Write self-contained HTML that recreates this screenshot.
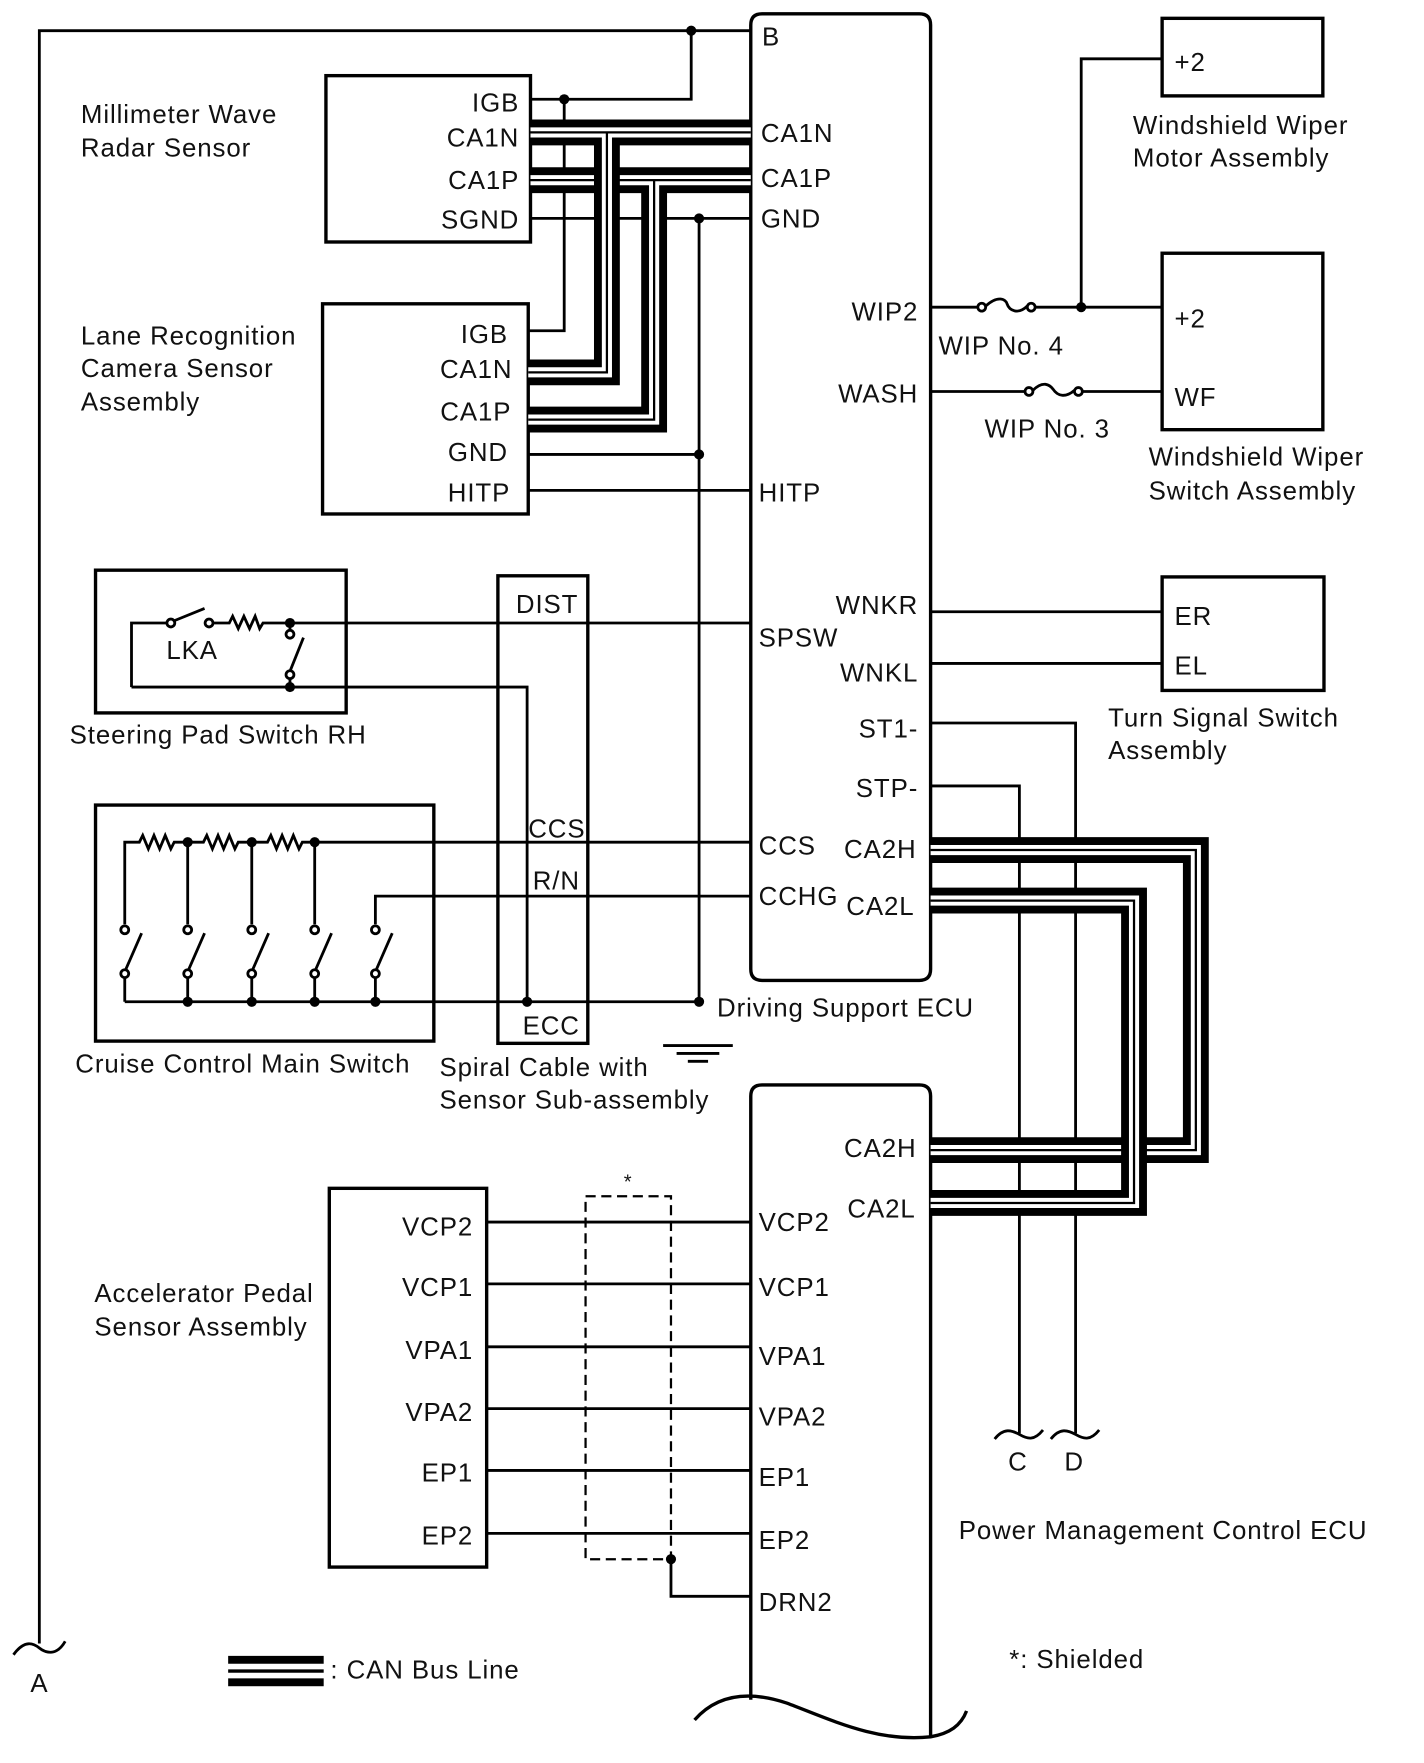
<!DOCTYPE html>
<html><head><meta charset="utf-8"><style>
html,body{margin:0;padding:0;background:#fff;}
svg{display:block;}
text{font-family:"Liberation Sans",Arial,sans-serif;font-size:23px;letter-spacing:0.8px;fill:#111;}
.r{text-anchor:end;}
</style></head><body>
<svg width="1424" height="1763" viewBox="0 0 1267 1568" xmlns="http://www.w3.org/2000/svg">
<defs>
<g id="b1"><path d="M472,160 H668"/><path d="M582,160 V373 H470"/></g>
<g id="b2"><path d="M472,117.5 H668"/><path d="M540,117.5 V331 H470"/></g>
<path id="b3" d="M828,756 H1064 V1023 H828"/>
<path id="b4" d="M828,801 H1009 V1070 H828"/>
</defs>
<g fill="none" stroke="#000" stroke-width="2.5">
<path d="M35,1462 V27 H668"/>
<path d="M12,1472 C22,1458 30,1462 35,1466 C40,1470 50,1474 58,1460"/>
<path d="M615,27 V88 H472"/>
<path d="M502,88 V294 H470"/>
<path d="M668,862 V22 Q668,12 678,12 H818 Q828,12 828,22 V862 Q828,872 818,872 H678 Q668,872 668,862 Z" stroke-width="3"/>
<path d="M668,1512 V975 Q668,965 678,965 H818 Q828,965 828,975 V1545" stroke-width="3"/>
<path d="M618,1530 C640,1505 670,1505 700,1515 C740,1530 780,1550 828,1545 C845,1542 855,1535 860,1522" stroke-width="3"/>
<rect x="290" y="67" width="182" height="148" stroke-width="3"/>
<rect x="287" y="270" width="183" height="187" stroke-width="3"/>
<path d="M472,194 H668"/>
<path d="M622,194 V891"/>
<path d="M470,404 H622"/>
<path d="M470,436 H668"/>
<path d="M590,930 H652 M602,937 H640 M612,944 H630"/>
<rect x="1034" y="16" width="143" height="69" stroke-width="3"/>
<rect x="1034" y="225" width="143" height="157" stroke-width="3"/>
<rect x="1034" y="513" width="144" height="101" stroke-width="3"/>
<path d="M828,273 H870 M921,273 H1034"/>
<path d="M962,273 V52 H1034"/>
<path d="M828,348 H912 M963,348 H1034"/>
<circle cx="873.5" cy="273" r="3.5"/><circle cx="917.5" cy="273" r="3.5"/>
<path d="M877,272 C888,262 895,266 896,270 C898,276 906,280 914,272"/>
<circle cx="915.5" cy="348" r="3.5"/><circle cx="959.5" cy="348" r="3.5"/>
<path d="M919,347 C928,338 934,342 937,346 C941,352 948,354 956,347"/>
<path d="M828,544 H1034 M828,590 H1034"/>
<path d="M828,643 H957 V1275 M828,699 H907 V1275"/>
<path d="M885,1280 C893,1270 900,1272 907,1276 C914,1280 920,1282 928,1272"/>
<path d="M935,1280 C943,1270 950,1272 957,1276 C964,1280 970,1282 978,1272"/>
<rect x="443" y="512" width="80" height="416" stroke-width="3"/>
<rect x="85" y="507" width="223" height="127" stroke-width="3"/>
<path d="M117,611 V554 H148 M190,554 H204 L207,548 L212,559 L217,548 L222,559 L227,548 L231,559 L234,554 H668"/>
<circle cx="152" cy="554" r="3.5"/><circle cx="186" cy="554" r="3.5"/>
<path d="M155,552 L182,541"/>
<path d="M258,554 V560"/><circle cx="258" cy="564" r="3.5"/>
<path d="M258,597 L270,567"/><circle cx="258" cy="600" r="3.5"/><path d="M258,604 V611"/>
<path d="M117,611 H469 V891"/>
<rect x="85" y="716" width="301" height="210" stroke-width="3"/>
<path d="M111,822 V749 H124 L127,743 L132,755 L137,743 L142,755 L147,743 L152,755 L155,749 H181 L184,743 L189,755 L194,743 L199,755 L204,743 L209,755 L212,749 H238 L241,743 L246,755 L251,743 L256,755 L261,743 L266,755 L269,749 H668"/>
<path d="M167,749 V822 M224,749 V822 M280,749 V822"/>
<path d="M334,822 V797 H668"/>
<g>
<circle cx="111" cy="827" r="3.5"/><circle cx="111" cy="866" r="3.5"/><path d="M112,862 L126,830 M111,870 V891"/>
<circle cx="167" cy="827" r="3.5"/><circle cx="167" cy="866" r="3.5"/><path d="M168,862 L182,830 M167,870 V891"/>
<circle cx="224" cy="827" r="3.5"/><circle cx="224" cy="866" r="3.5"/><path d="M225,862 L239,830 M224,870 V891"/>
<circle cx="280" cy="827" r="3.5"/><circle cx="280" cy="866" r="3.5"/><path d="M281,862 L295,830 M280,870 V891"/>
<circle cx="334" cy="827" r="3.5"/><circle cx="334" cy="866" r="3.5"/><path d="M335,862 L349,830 M334,870 V891"/>
</g>
<path d="M111,891 H622"/>
<rect x="293" y="1057" width="140" height="337" stroke-width="3"/>
<path d="M433,1087 H668 M433,1142 H668 M433,1198 H668 M433,1253 H668 M433,1308 H668 M433,1364 H668"/>
<rect x="521" y="1064" width="76" height="323" stroke-dasharray="9,5" stroke-width="2"/>
<path d="M597,1387 V1420 H668"/>
</g>
<g fill="#000">
<circle cx="615" cy="27" r="4.5"/><circle cx="502" cy="88" r="4.5"/>
<circle cx="622" cy="194" r="4.5"/><circle cx="622" cy="404" r="4.5"/><circle cx="622" cy="891" r="4.5"/>
<circle cx="962" cy="273" r="4.5"/><circle cx="258" cy="554" r="4.5"/><circle cx="258" cy="611" r="4.5"/>
<circle cx="469" cy="891" r="4.5"/>
<circle cx="167" cy="749" r="4.5"/><circle cx="224" cy="749" r="4.5"/><circle cx="280" cy="749" r="4.5"/>
<circle cx="167" cy="891" r="4.5"/><circle cx="224" cy="891" r="4.5"/><circle cx="280" cy="891" r="4.5"/><circle cx="334" cy="891" r="4.5"/>
<circle cx="597" cy="1387" r="4.5"/>
</g>
<g fill="none" stroke-linejoin="miter" stroke-linecap="butt">
<use href="#b1" stroke="#000" stroke-width="23"/><use href="#b1" stroke="#fff" stroke-width="9"/><use href="#b1" stroke="#000" stroke-width="2"/>
<use href="#b2" stroke="#000" stroke-width="23"/><use href="#b2" stroke="#fff" stroke-width="9"/><use href="#b2" stroke="#000" stroke-width="2"/>
<use href="#b3" stroke="#000" stroke-width="23"/><use href="#b3" stroke="#fff" stroke-width="9"/><use href="#b3" stroke="#000" stroke-width="2"/>
<use href="#b4" stroke="#000" stroke-width="23"/><use href="#b4" stroke="#fff" stroke-width="9"/><use href="#b4" stroke="#000" stroke-width="2"/>
</g>
<rect x="203" y="1473" width="85" height="7" fill="#000"/>
<rect x="203" y="1485" width="85" height="3" fill="#000"/>
<rect x="203" y="1493" width="85" height="7" fill="#000"/>
<text x="678" y="40">B</text>
<text x="72" y="109">Millimeter Wave</text><text x="72" y="139">Radar Sensor</text>
<text class="r" x="462" y="99">IGB</text><text class="r" x="462" y="130">CA1N</text>
<text class="r" x="462" y="168">CA1P</text><text class="r" x="462" y="203">SGND</text>
<text x="677" y="126">CA1N</text><text x="677" y="166">CA1P</text><text x="677" y="202">GND</text>
<text x="72" y="306">Lane Recognition</text><text x="72" y="335">Camera Sensor</text><text x="72" y="365">Assembly</text>
<text class="r" x="452" y="305">IGB</text><text class="r" x="456" y="336">CA1N</text>
<text class="r" x="455" y="374">CA1P</text><text class="r" x="452" y="410">GND</text><text class="r" x="454" y="446">HITP</text>
<text x="675" y="446">HITP</text>
<text class="r" x="817" y="285">WIP2</text><text class="r" x="817" y="358">WASH</text>
<text x="835" y="315">WIP No. 4</text><text x="876" y="389">WIP No. 3</text>
<text x="1045" y="63">+2</text><text x="1008" y="119">Windshield Wiper</text><text x="1008" y="148">Motor Assembly</text>
<text x="1045" y="291">+2</text><text x="1045" y="361">WF</text>
<text x="1022" y="414">Windshield Wiper</text><text x="1022" y="444">Switch Assembly</text>
<text class="r" x="817" y="546">WNKR</text><text x="675" y="575">SPSW</text><text class="r" x="817" y="606">WNKL</text>
<text x="1045" y="556">ER</text><text x="1045" y="600">EL</text>
<text x="986" y="646">Turn Signal Switch</text><text x="986" y="675">Assembly</text>
<text class="r" x="817" y="656">ST1-</text><text class="r" x="817" y="709">STP-</text>
<text x="675" y="760">CCS</text><text x="751" y="763">CA2H</text>
<text x="675" y="805">CCHG</text><text x="753" y="814">CA2L</text>
<text x="459" y="545">DIST</text><text x="470" y="745">CCS</text><text x="474" y="791">R/N</text><text x="465" y="920">ECC</text>
<text x="148" y="586">LKA</text>
<text x="62" y="661">Steering Pad Switch RH</text>
<text x="67" y="954">Cruise Control Main Switch</text>
<text x="638" y="904">Driving Support ECU</text>
<text x="391" y="957">Spiral Cable with</text><text x="391" y="986">Sensor Sub-assembly</text>
<text x="751" y="1029">CA2H</text><text x="754" y="1083">CA2L</text>
<text x="555" y="1057" style="font-size:18px">*</text>
<text x="84" y="1158">Accelerator Pedal</text><text x="84" y="1188">Sensor Assembly</text>
<text class="r" x="421" y="1099">VCP2</text><text class="r" x="421" y="1153">VCP1</text>
<text class="r" x="421" y="1209">VPA1</text><text class="r" x="421" y="1264">VPA2</text>
<text class="r" x="421" y="1318">EP1</text><text class="r" x="421" y="1374">EP2</text>
<text x="675" y="1095">VCP2</text><text x="675" y="1153">VCP1</text><text x="675" y="1214">VPA1</text>
<text x="675" y="1268">VPA2</text><text x="675" y="1322">EP1</text><text x="675" y="1378">EP2</text><text x="675" y="1433">DRN2</text>
<text x="897" y="1308">C</text><text x="947" y="1308">D</text>
<text x="853" y="1369">Power Management Control ECU</text>
<text x="898" y="1484">*: Shielded</text>
<text x="294" y="1493">: CAN Bus Line</text>
<text x="27" y="1505">A</text>
</svg>
</body></html>
